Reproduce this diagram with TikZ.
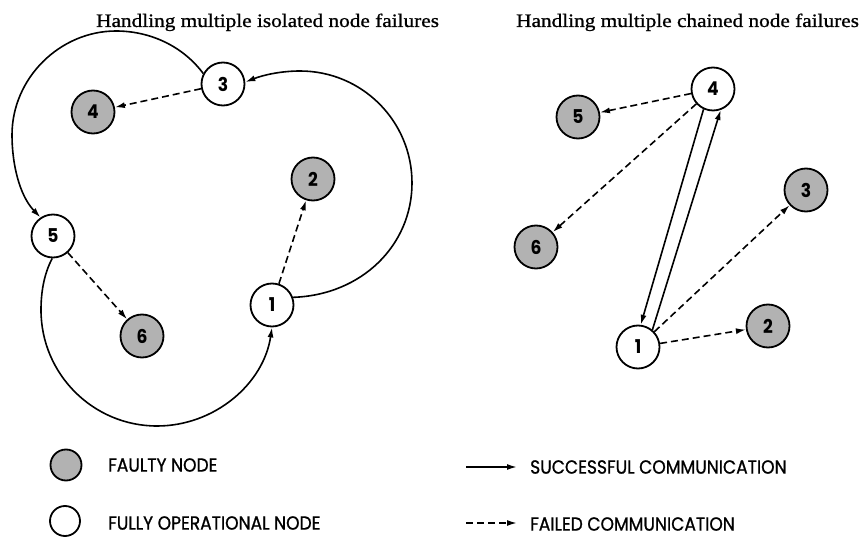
\documentclass[tikz,border=0pt]{standalone}
\usepackage{fontspec}
\setmainfont{Liberation Serif}
\newfontfamily\ttlfont[FakeStretch=1.12,FakeBold=1]{Liberation Serif}
\newfontfamily\legfont[FakeStretch=0.9,FakeBold=1]{Poppins}
\newfontfamily\numfont[FakeStretch=0.9]{Poppins}
\usetikzlibrary{arrows.meta}
\begin{document}
\begin{tikzpicture}[x=1pt,y=-1pt,
  nd/.style={circle,draw,line width=1.8pt,minimum size=43pt,inner sep=0pt,
    font=\numfont\bfseries\fontsize{19}{19}\selectfont},
  ok/.style={nd,fill=white},
  bad/.style={nd,fill=black!30},
  ar/.style={-{Latex[length=10pt,width=6pt]},line width=1.6pt},
  fl/.style={ar,dash pattern=on 7pt off 4pt},
  ttl/.style={anchor=base west,inner sep=0pt,font=\ttlfont\fontsize{19}{19}\selectfont},
  leg/.style={anchor=west,inner sep=0pt,font=\legfont\fontsize{19}{19}\selectfont}]
\useasboundingbox (0,0) rectangle (862,537);
% titles
\node[ttl] (t1) at (96,27) {Handling multiple isolated node failures};
\node[ttl] (t2) at (516,27) {Handling multiple chained node failures};
% left diagram
\node[ok]  (a3) at (223,84) {3};
\node[bad] (a4) at (93,112) {4};
\node[bad] (a2) at (313,179) {2};
\node[ok]  (a5) at (53,236) {5};
\node[ok]  (a1) at (272,305) {1};
\node[bad] (a6) at (142,336) {6};
\draw[ar] (a3.152) .. controls (182.5,45.7) and (149.7,31) .. (116,31)
  .. controls (60,31) and (12,78) .. (12,135)
  .. controls (12,163) and (19,195) .. (a5.124);
\draw[ar] (a1.20) .. controls (362,295) and (412,245) .. (412,183)
  .. controls (412,121) and (362,71) .. (300,71)
  .. controls (282,71) and (264,74.7) .. (a3.5);
\draw[ar] (a5.268) .. controls (44,274) and (41,292) .. (41,310)
  .. controls (41,374) and (93,426) .. (157,426)
  .. controls (214.5,426) and (263.6,383.9) .. (a1.south);
\draw[fl] (a3) -- (a4);
\draw[fl] (a1) -- (a2);
\draw[fl] (a5) -- (a6);
% right diagram
\node[ok]  (b4) at (713,89) {4};
\node[bad] (b5) at (578,117) {5};
\node[bad] (b3) at (806,190) {3};
\node[bad] (b6) at (536,247) {6};
\node[bad] (b2) at (768,326) {2};
\node[ok]  (b1) at (638,347) {1};
\draw[ar] (b4.245) -- (b1.83);
\draw[ar] (b1.50) -- (b4.290);
\draw[fl] (b4) -- (b5);
\draw[fl] (b4) -- (b6);
\draw[fl] (b1) -- (b3);
\draw[fl] (b1) -- (b2);
% legend
\node[circle,draw,line width=1.8pt,minimum size=31pt,inner sep=0pt,fill=black!30] (lf) at (66,465) {};
\node[circle,draw,line width=1.8pt,minimum size=30pt,inner sep=0pt] (lo) at (65,521) {};
\node[leg] (lft) at (108,465) {FAULTY NODE};
\node[leg] (lot) at (108,523) {FULLY OPERATIONAL NODE};
\coordinate (s0) at (466,467);
\coordinate (s1) at (517,467);
\coordinate (d0) at (466,523);
\coordinate (d1) at (517,523);
\draw[ar] (s0) -- (s1);
\draw[fl] (d0) -- (d1);
\node[leg] (lst) at (530,467) {SUCCESSFUL COMMUNICATION};
\node[leg] (ldt) at (530,524) {FAILED COMMUNICATION};
\end{tikzpicture}
\end{document}
